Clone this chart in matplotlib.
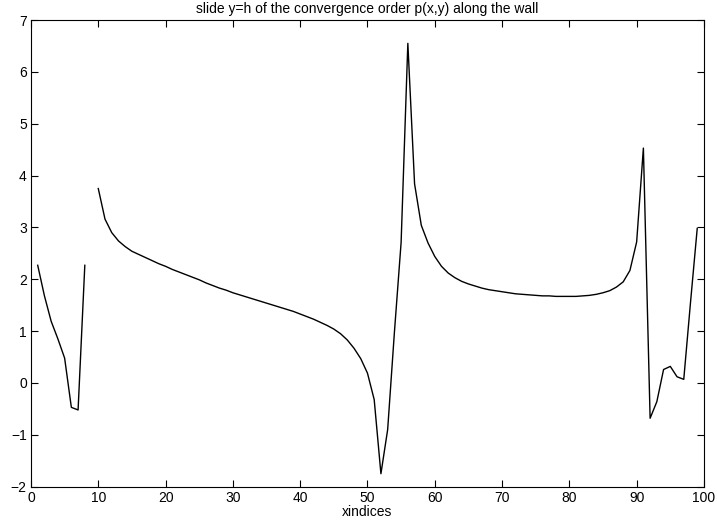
import numpy as np
import matplotlib
matplotlib.use('Agg')
import matplotlib.pyplot as plt

# convergence order p(x, y) along the wall, slice y = h (x = 9 missing)
x_idx = list(range(1, 100))
order = [
    2.27, 1.68, 1.19, 0.85, 0.48, -0.47, -0.52, 2.27, np.nan,          # 1-9
    3.75, 3.16, 2.90, 2.74, 2.63, 2.54, 2.48, 2.42, 2.36, 2.30,        # 10-19
    2.25, 2.19, 2.14, 2.09, 2.04, 1.99, 1.93, 1.88, 1.83, 1.79,        # 20-29
    1.74, 1.70, 1.66, 1.62, 1.58, 1.54, 1.50, 1.46, 1.42, 1.38,        # 30-39
    1.33, 1.28, 1.23, 1.17, 1.11, 1.04, 0.95, 0.83, 0.67, 0.47,        # 40-49
    0.19, -0.32, -1.75, -0.90, 0.97, 2.71, 6.55, 3.84, 3.04, 2.70,     # 50-59
    2.44, 2.25, 2.12, 2.03, 1.96, 1.91, 1.87, 1.83, 1.80, 1.78,        # 60-69
    1.76, 1.74, 1.72, 1.71, 1.70, 1.69, 1.68, 1.68, 1.67, 1.67,        # 70-79
    1.67, 1.67, 1.68, 1.69, 1.71, 1.74, 1.78, 1.85, 1.95, 2.17,        # 80-89
    2.72, 4.53, -0.68, -0.36, 0.26, 0.32, 0.12, 0.07, 1.55, 2.98,      # 90-99
]

plt.rcParams['font.family'] = ['Liberation Sans', 'DejaVu Sans']

fig = plt.figure(figsize=(7.17, 5.24), dpi=100, facecolor='white')
ax = fig.add_axes([0.0432, 0.0712, 0.9386, 0.8906])

ax.plot(x_idx, order, color='black', linewidth=1.0)

ax.set_xlim(0, 100)
ax.set_ylim(-2, 7)
ax.set_xticks(range(0, 101, 10))
ax.set_yticks(range(-2, 8))

ax.tick_params(direction='in', length=5, width=0.8, top=True, right=True,
               labelsize=10, pad=3)
for sp in ax.spines.values():
    sp.set_linewidth(0.8)

ax.set_title('slide y=h of the convergence order p(x,y) along the wall',
             fontsize=10, pad=5)
ax.set_xlabel('xindices', fontsize=10, labelpad=0)

fig.savefig('out.png', dpi=100, facecolor='white')
